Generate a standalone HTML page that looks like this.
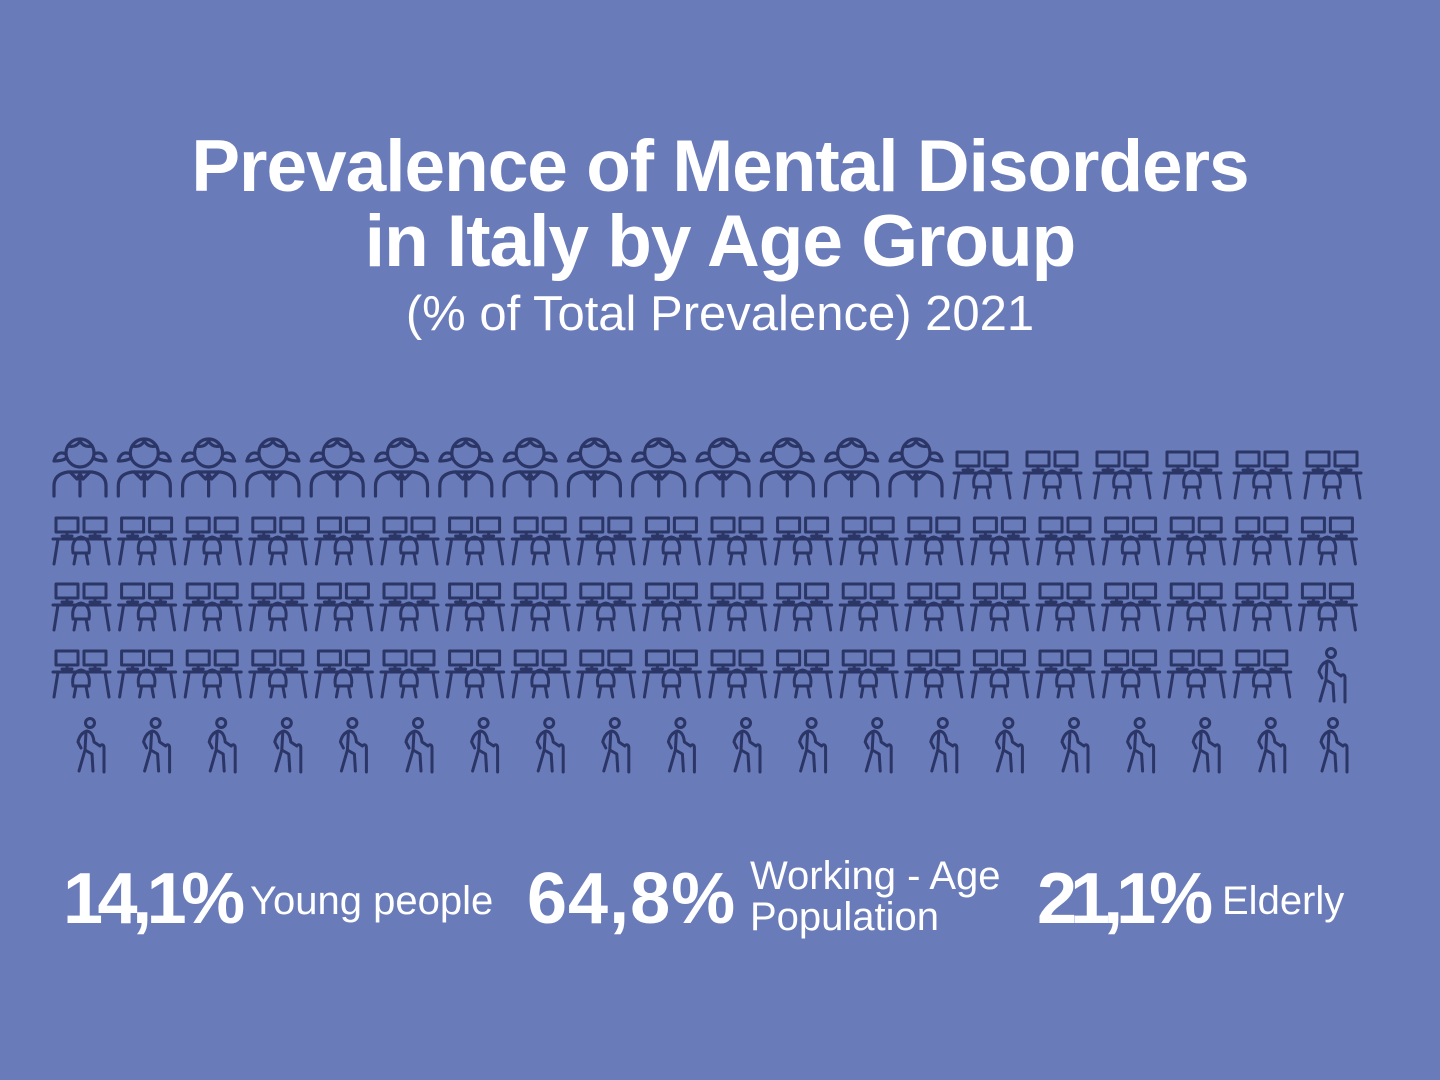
<!DOCTYPE html>
<html><head><meta charset="utf-8"><style>
body{margin:0;width:1440px;height:1080px;background:#6a7bba;overflow:hidden;position:relative;font-family:"Liberation Sans",sans-serif;color:#fff}
.t{position:absolute;left:0;width:1440px;text-align:center;font-weight:bold;font-size:73px;letter-spacing:-1px}
.s{position:absolute;left:0;width:1440px;text-align:center;font-size:49px;font-weight:300}
.n{position:absolute;font-weight:bold;font-size:72px;top:858px}
.l{position:absolute;font-size:40px}
svg{position:absolute;left:0;top:0}
</style></head><body>
<div class="t" style="top:125px">Prevalence of Mental Disorders</div>
<div class="t" style="top:200px">in Italy by Age Group</div>
<div class="s" style="top:286px">(% of Total Prevalence) 2021</div>

<svg width="1440" height="1080" viewBox="0 0 1440 1080">
<defs>
<g id="g" fill="none" stroke="#2b3566" stroke-width="3.2" stroke-linecap="round" stroke-linejoin="round">
<circle cx="28" cy="19" r="14"/>
<path d="M16 12 Q24 14 28 7 Q32 14 40 12"/>
<path d="M14 20 Q5 16 2 27 Q10 27 15 24"/>
<path d="M42 20 Q51 16 54 27 Q46 27 41 24"/>
<path d="M2 62 V52 Q2 40 16 38 H40 Q54 40 54 52 V62"/>
<path d="M28 40 V62 M18 38 L25 45 L28 40 L31 45 L38 38"/>
</g>
<g id="d" fill="none" stroke="#2b3566" stroke-width="3" stroke-linecap="round" stroke-linejoin="round">
<rect x="4" y="1" width="22" height="14"/>
<rect x="32" y="1" width="22" height="14"/>
<path d="M15 15 V19 M10 19 H20 M43 15 V19 M38 19 H48"/>
<path d="M1 22 H58 M6 22 L2 47 M53 22 L57 47"/>
<path d="M21 36 Q19 22 29 20 Q39 22 37 36 Z M24 36 L22 47 M34 36 L36 47"/>
</g>
<g id="e" fill="none" stroke="#2b3566" stroke-width="3" stroke-linecap="round" stroke-linejoin="round">
<circle cx="17" cy="5" r="4.5"/>
<path d="M14 13 Q7 15 5 24 L8 30 M14 13 Q20 14 21 24 L27 28 M13 14 L12 32 L6 53 M12 32 L19 36 L20 53 M28 27 Q31 26 31 30 V54"/>
</g>
</defs>
<g>
<use href="#g" x="52" y="434"/><use href="#g" x="116.3" y="434"/><use href="#g" x="180.6" y="434"/><use href="#g" x="244.9" y="434"/><use href="#g" x="309.2" y="434"/><use href="#g" x="373.5" y="434"/><use href="#g" x="437.8" y="434"/><use href="#g" x="502.1" y="434"/><use href="#g" x="566.4" y="434"/><use href="#g" x="630.7" y="434"/><use href="#g" x="695" y="434"/><use href="#g" x="759.3" y="434"/><use href="#g" x="823.6" y="434"/><use href="#g" x="888" y="434"/>
<use href="#d" x="953" y="451"/><use href="#d" x="1023" y="451"/><use href="#d" x="1093" y="451"/><use href="#d" x="1163" y="451"/><use href="#d" x="1233" y="451"/><use href="#d" x="1303" y="451"/>
</g>
<g id="row">
<use href="#d" x="52" y="517"/><use href="#d" x="117.6" y="517"/><use href="#d" x="183.2" y="517"/><use href="#d" x="248.8" y="517"/><use href="#d" x="314.4" y="517"/><use href="#d" x="380" y="517"/><use href="#d" x="445.6" y="517"/><use href="#d" x="511.2" y="517"/><use href="#d" x="576.8" y="517"/><use href="#d" x="642.4" y="517"/><use href="#d" x="708" y="517"/><use href="#d" x="773.6" y="517"/><use href="#d" x="839.2" y="517"/><use href="#d" x="904.8" y="517"/><use href="#d" x="970.4" y="517"/><use href="#d" x="1036" y="517"/><use href="#d" x="1101.6" y="517"/><use href="#d" x="1167.2" y="517"/><use href="#d" x="1232.8" y="517"/><use href="#d" x="1298.4" y="517"/>
</g>
<use href="#row" x="0" y="66"/>
<g>
<use href="#d" x="52" y="650"/><use href="#d" x="117.6" y="650"/><use href="#d" x="183.2" y="650"/><use href="#d" x="248.8" y="650"/><use href="#d" x="314.4" y="650"/><use href="#d" x="380" y="650"/><use href="#d" x="445.6" y="650"/><use href="#d" x="511.2" y="650"/><use href="#d" x="576.8" y="650"/><use href="#d" x="642.4" y="650"/><use href="#d" x="708" y="650"/><use href="#d" x="773.6" y="650"/><use href="#d" x="839.2" y="650"/><use href="#d" x="904.8" y="650"/><use href="#d" x="970.4" y="650"/><use href="#d" x="1036" y="650"/><use href="#d" x="1101.6" y="650"/><use href="#d" x="1167.2" y="650"/><use href="#d" x="1232.8" y="650"/>
<use href="#e" x="1314" y="648"/>
</g>
<g>
<use href="#e" x="73" y="718"/><use href="#e" x="138.6" y="718"/><use href="#e" x="204.2" y="718"/><use href="#e" x="269.8" y="718"/><use href="#e" x="335.4" y="718"/><use href="#e" x="401" y="718"/><use href="#e" x="466.6" y="718"/><use href="#e" x="532.2" y="718"/><use href="#e" x="597.8" y="718"/><use href="#e" x="663.4" y="718"/><use href="#e" x="729" y="718"/><use href="#e" x="794.6" y="718"/><use href="#e" x="860.2" y="718"/><use href="#e" x="925.8" y="718"/><use href="#e" x="991.4" y="718"/><use href="#e" x="1057" y="718"/><use href="#e" x="1122.6" y="718"/><use href="#e" x="1188.2" y="718"/><use href="#e" x="1253.8" y="718"/><use href="#e" x="1316" y="718"/>
</g>
</svg>

<div class="n" style="left:63px;letter-spacing:-5.5px">14,1%</div>
<div class="l" style="left:250px;top:879px">Young people</div>
<div class="n" style="left:527px;letter-spacing:1px">64,8%</div>
<div class="l" style="left:750px;top:856px;line-height:41px">Working - Age<br>Population</div>
<div class="n" style="left:1037px;letter-spacing:-7px">21,1%</div>
<div class="l" style="left:1222px;top:879px">Elderly</div>
</body></html>
